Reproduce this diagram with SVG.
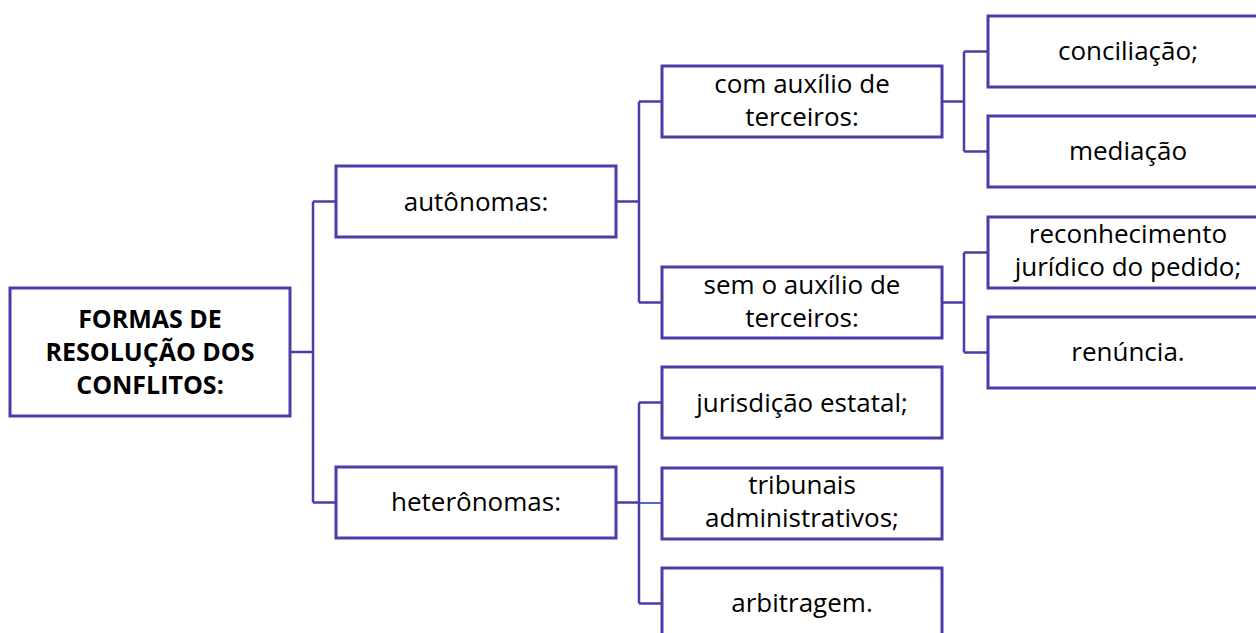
<svg xmlns="http://www.w3.org/2000/svg" width="1256" height="633" viewBox="0 0 1256 633">
<style>
.box{fill:#fff;stroke:#4B3CA8;stroke-width:3}
.ln{fill:none;stroke:#4B3CA8;stroke-width:2.5}
.t{font-family:"Open Sans","Liberation Sans",sans-serif;font-size:26px;fill:#000;text-anchor:middle}
.b{font-family:"Open Sans","Liberation Sans",sans-serif;font-size:25px;font-weight:bold;fill:#000;text-anchor:middle}
</style>
<rect width="1256" height="633" fill="#fff"/>
<g id="connectors">
<path class="ln" d="M290,352H313M313,201.5V502.5M313,201.5H336M313,502.5H336"/>
<path class="ln" d="M616,201.5H639M639,101.5V302.5M639,101.5H662M639,302.5H662"/>
<path class="ln" d="M942,101.5H964M964,51.5V151.5M964,51.5H988M964,151.5H988"/>
<path class="ln" d="M942,302.5H964M964,252.5V352.5M964,252.5H988M964,352.5H988"/>
<path class="ln" d="M616,502.5H639M639,402.5V603.5M639,402.5H662M639,603.5H662"/>
<path fill="none" stroke="#4A6FC0" stroke-width="2" d="M640,503H662"/>
</g>
<g id="root"><rect class="box" x="10" y="288" width="280" height="128"/>
<text class="b" x="150" y="328">FORMAS DE</text><text class="b" x="150" y="361">RESOLUÇÃO DOS</text><text class="b" x="150" y="394">CONFLITOS:</text></g>
<g id="autonomas"><rect class="box" x="336" y="166" width="280" height="71"/><text class="t" x="476" y="211">autônomas:</text></g>
<g id="heteronomas"><rect class="box" x="336" y="467" width="280" height="71"/><text class="t" x="476" y="511">heterônomas:</text></g>
<g id="com"><rect class="box" x="662" y="66" width="280" height="71"/><text class="t" x="802" y="93">com auxílio de</text><text class="t" x="802" y="126">terceiros:</text></g>
<g id="sem"><rect class="box" x="662" y="267" width="280" height="71"/><text class="t" x="802" y="294">sem o auxílio de</text><text class="t" x="802" y="327">terceiros:</text></g>
<g id="jurisdicao"><rect class="box" x="662" y="367" width="280" height="71"/><text class="t" x="802" y="412">jurisdição estatal;</text></g>
<g id="tribunais"><rect class="box" x="662" y="468" width="280" height="71"/><text class="t" x="802" y="494">tribunais</text><text class="t" x="802" y="527">administrativos;</text></g>
<g id="arbitragem"><rect class="box" x="662" y="568" width="280" height="71"/><text class="t" x="802" y="612">arbitragem.</text></g>
<g id="conciliacao"><rect class="box" x="988" y="16" width="280" height="71"/><text class="t" x="1128" y="60">conciliação;</text></g>
<g id="mediacao"><rect class="box" x="988" y="116" width="280" height="71"/><text class="t" x="1128" y="160">mediação</text></g>
<g id="reconhecimento"><rect class="box" x="988" y="217" width="280" height="71"/><text class="t" x="1128" y="243">reconhecimento</text><text class="t" x="1128" y="276">jurídico do pedido;</text></g>
<g id="renuncia"><rect class="box" x="988" y="317" width="280" height="71"/><text class="t" x="1128" y="361">renúncia.</text></g>
</svg>
